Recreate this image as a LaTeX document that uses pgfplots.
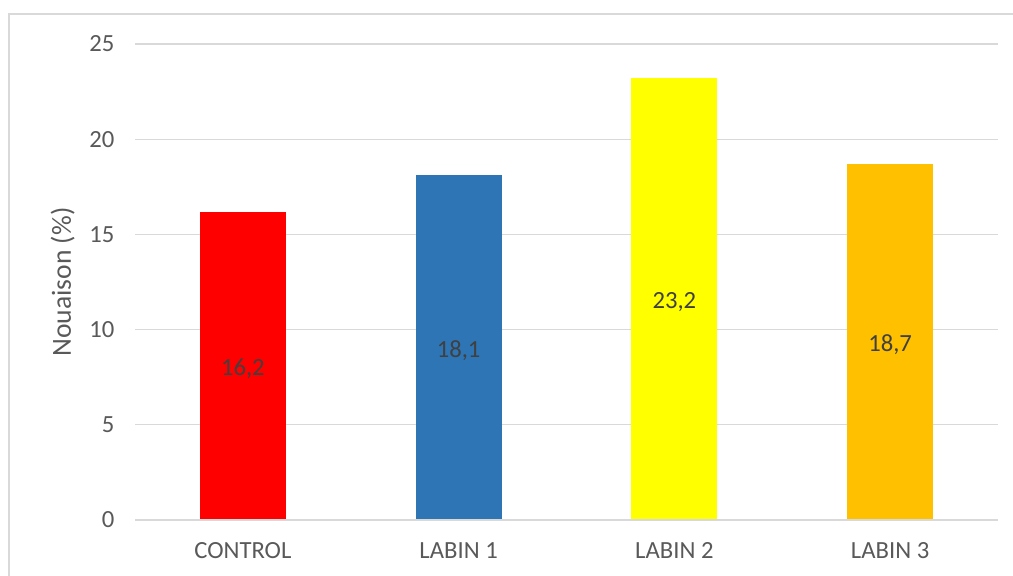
\documentclass[border=0pt]{standalone}
\usepackage{pgfplots}
\pgfplotsset{compat=1.18}
\usepackage{fontspec}
\setmainfont{Carlito}
\definecolor{gridc}{HTML}{D9D9D9}
\definecolor{txt}{HTML}{595959}
\definecolor{lbl}{HTML}{404040}
\definecolor{cRed}{HTML}{FF0000}
\definecolor{cBlue}{HTML}{2E75B6}
\definecolor{cYel}{HTML}{FFFF00}
\definecolor{cOr}{HTML}{FFC000}
\begin{document}
\begin{tikzpicture}
\useasboundingbox (0pt,0pt) rectangle (759.75pt,431.25pt);
\draw[gridc, line width=1.5pt] (6.75pt,-5pt) -- (6.75pt,420.75pt) -- (770pt,420.75pt);
\begin{axis}[
  at={(101.25pt,41.25pt)}, anchor=south west,
  scale only axis,
  width=647.25pt, height=357pt,
  xmin=-0.5, xmax=3.5,
  ymin=0, ymax=25,
  ytick={0,5,10,15,20,25},
  xtick={0,1,2,3},
  xticklabels={CONTROL,LABIN 1,LABIN 2,LABIN 3},
  axis line style={draw=none},
  axis x line*=bottom,
  axis y line*=left,
  tick style={draw=none},
  ymajorgrids,
  grid style={gridc, line width=0.9pt},
  tick label style={font=\fontsize{18.5}{20}\selectfont, text=txt},
  /pgf/number format/assume math mode=true,
  yticklabel style={xshift=-12pt},
  xticklabel style={yshift=-9pt},
  ylabel={Nouaison (\%)},
  ylabel style={font=\fontsize{20.7}{22}\selectfont, text=txt, yshift=4pt},
  bar width=64.5pt,
  ybar, bar shift=0pt,
  clip=false,
]
\addplot[fill=cRed, draw=none] coordinates {(0,16.2)};
\addplot[fill=cBlue, draw=none] coordinates {(1,18.1)};
\addplot[fill=cYel, draw=none] coordinates {(2,23.2)};
\addplot[fill=cOr, draw=none] coordinates {(3,18.7)};
\draw[gridc, line width=0.9pt] (axis cs:-0.5,0) -- (axis cs:3.5,0);
\addplot[only marks, mark=none, nodes near coords={\pgfmathprintnumber[use comma, fixed, fixed zerofill, precision=1]{\pgfplotspointmeta}},
  nodes near coords style={font=\fontsize{18.5}{20}\selectfont, text=lbl, anchor=center},
  point meta=explicit]
  coordinates {(0,7.95)[16.2] (1,8.9)[18.1] (2,11.45)[23.2] (3,9.2)[18.7]};
\end{axis}
\end{tikzpicture}
\end{document}
